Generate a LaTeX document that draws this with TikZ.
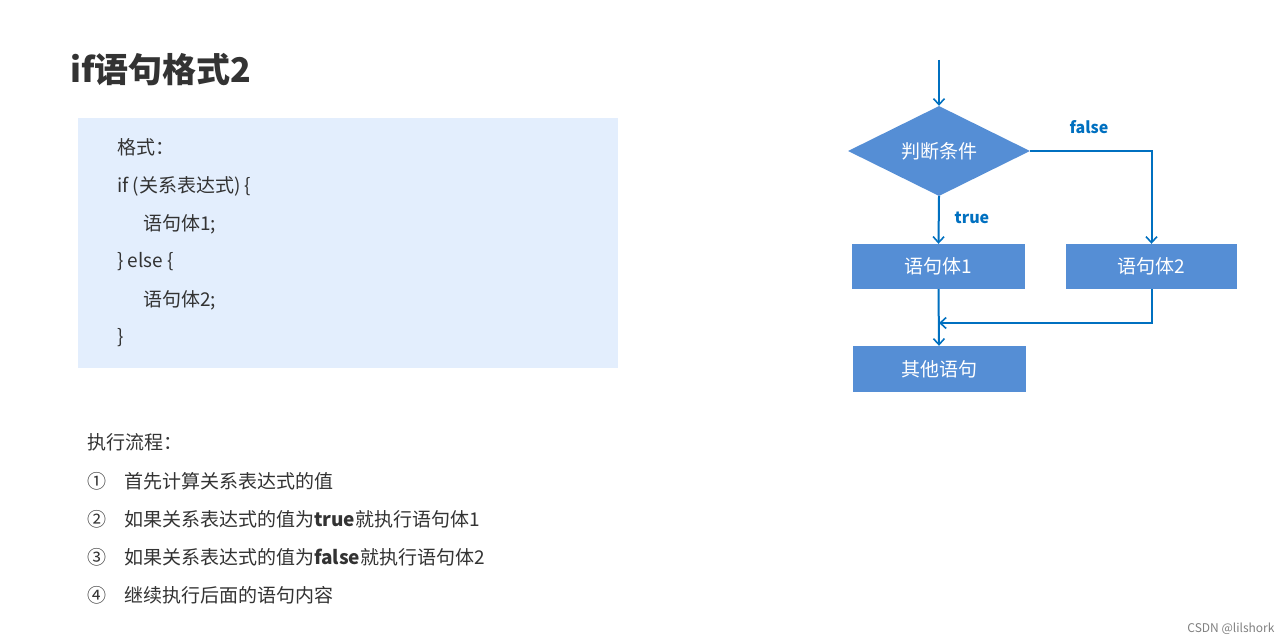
\documentclass[tikz,border=0pt]{standalone}
\usepackage{fontspec}
\setmainfont{Noto Sans CJK SC}
\usetikzlibrary{arrows.meta,shapes.geometric}
\definecolor{boxblue}{HTML}{558ED5}
\definecolor{lineblue}{HTML}{0070C0}
\definecolor{codebg}{HTML}{E3EEFD}
\definecolor{txt}{HTML}{333333}
\begin{document}
\begin{tikzpicture}[x=1pt,y=-1pt,
  fbox/.style={draw=none,fill=boxblue,minimum width=173pt,minimum height=45pt,text=white,font=\fontsize{19}{22}\selectfont,inner sep=0pt},
  conn/.style={draw=lineblue,line width=2pt,-{Straight Barb[length=6pt,width=11pt,line width=1.6pt]}},
  lbl/.style={text=lineblue,font=\fontsize{16}{18}\selectfont\bfseries},
  code/.style={anchor=west,text=txt,font=\fontsize{19}{22}\selectfont,inner sep=0pt}]
\useasboundingbox[fill=white] (0,0) rectangle (1285,644);
\node[anchor=west,text=txt,font=\fontsize{34}{38}\selectfont\bfseries,inner sep=0pt] (title) at (70,70) {if语句格式2};
\fill[codebg] (78,118) rectangle (618,368);
\node[code] (c1) at (117,147) {格式：};
\node[code] (c2) at (117,186) {if (关系表达式) \{};
\node[code] (c3) at (143,224) {语句体1;};
\node[code] (c4) at (117,262) {\} else \{};
\node[code] (c5) at (143,300) {语句体2;};
\node[code] (c6) at (117,338) {\}};
\node[code] (e0) at (87,442) {执行流程：};
\foreach \y/\n/\t in {481/①/首先计算关系表达式的值,519/②/如果关系表达式的值为\textbf{true}就执行语句体1,557/③/如果关系表达式的值为\textbf{false}就执行语句体2,595/④/继续执行后面的语句内容}{
  \node[code] at (87,\y) {\n};
  \node[code] at (124,\y) {\t};
}
\coordinate (start) at (939,60);
\node[diamond,fill=boxblue,minimum width=182pt,minimum height=90pt,aspect=2,inner sep=0pt,text=white,font=\fontsize{19}{22}\selectfont] (d) at (939,151) {};
\node[text=white,font=\fontsize{19}{22}\selectfont] at (d) {判断条件};
\node[fbox] (b1) at (938.5,266.5) {语句体1};
\node[fbox,minimum width=171pt] (b2) at (1151.5,266.5) {语句体2};
\node[fbox,minimum height=46pt] (b3) at (939,369) {其他语句};
\draw[conn] (start) -- (d.north);
\draw[conn] (d.south) -- (b1.north);
\node[lbl] (lt) at (972,218) {true};
\draw[conn] (d.east) -| (b2.north);
\node[lbl] (lf) at (1089,127) {false};
\draw[conn] (b1.south) -- (b3.north);
\coordinate (j) at (939,323);
\draw[conn] (b2.south) |- (j);
\node[text=gray,font=\fontsize{12}{14}\selectfont,anchor=east] (w) at (1278,629) {CSDN @lilshork};
\end{tikzpicture}
\end{document}
